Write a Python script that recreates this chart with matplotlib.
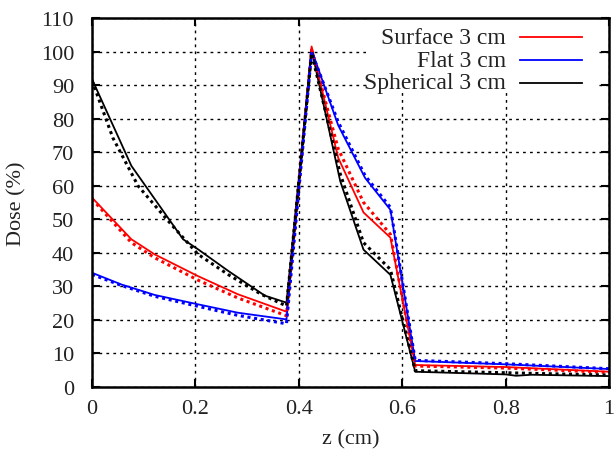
import matplotlib
matplotlib.use("Agg")
import matplotlib.pyplot as plt
from matplotlib.lines import Line2D
from matplotlib.patches import Rectangle

plt.rcParams['font.family'] = ['Liberation Serif', 'DejaVu Serif']

# Surface 3 cm (red)
surf_x = [0, 0.076, 0.121, 0.205, 0.282, 0.376, 0.4246, 0.476, 0.525, 0.577, 0.625, 0.8, 1.0]
surf_y = [56.4, 44, 39.5, 33, 27.6, 22.4, 101.5, 68.3, 52, 44.5, 6.5, 5.9, 4.5]
surf_dot_y = [56, 43, 38.5, 31.8, 26.5, 21.2, 100.5, 71, 55, 45.5, 6.2, 5.6, 4.3]

# Flat 3 cm (blue)
flat_x = [0, 0.057, 0.121, 0.205, 0.282, 0.376, 0.4246, 0.476, 0.528, 0.577, 0.625, 0.8, 1.0]
flat_y = [34, 30.5, 27.4, 24.6, 22.1, 20.1, 100.5, 78, 62.3, 52.8, 7.7, 6.7, 5.3]
flat_dot_y = [33.5, 30.2, 27, 24, 21.3, 18.8, 99.8, 79, 63, 53.5, 7.9, 6.9, 5.4]

# Spherical 3 cm (black)
sph_x = [0, 0.076, 0.176, 0.205, 0.263, 0.334, 0.376, 0.4246, 0.48, 0.525, 0.577, 0.625, 0.8, 0.82, 0.85, 1.0]
sph_y = [91.7, 65.9, 44, 41, 34.6, 27.2, 25.1, 100.5, 61.3, 40.9, 33.4, 4.5, 3.7, 3.3, 3.6, 3.2]
sph_dot_x = [0, 0.04, 0.089, 0.147, 0.205, 0.263, 0.327, 0.376, 0.4246, 0.48, 0.525, 0.577, 0.625, 1.0]
sph_dot_y = [91.3, 74.3, 59.9, 49.5, 39.5, 33.5, 27.6, 24.1, 99.5, 63.5, 43, 35, 4.8, 3.5]

labels = ['Surface 3 cm', 'Flat 3 cm', 'Spherical 3 cm']
colors = ['#ff0000', '#0000ff', 'black']

fig = plt.figure(figsize=(6.14, 4.52), dpi=100)
ax = fig.add_axes([0.150, 0.142, 0.842, 0.816])

ax.plot(surf_x, surf_y, color=colors[0], lw=1.3)
ax.plot(flat_x, flat_y, color=colors[1], lw=1.3)
ax.plot(sph_x, sph_y, color=colors[2], lw=1.3)

dot = dict(lw=2.2, linestyle=(0, (1, 1.2)))
ax.plot(surf_x, surf_dot_y, color=colors[0], **dot)
ax.plot(flat_x, flat_dot_y, color=colors[1], **dot)
ax.plot(sph_dot_x, sph_dot_y, color=colors[2], **dot)

ax.set_xlim(0, 1)
ax.set_ylim(0, 110)
ax.set_xticks([0, 0.2, 0.4, 0.6, 0.8, 1])
ax.set_xticklabels(['0', '0.2', '0.4', '0.6', '0.8', '1'])
ax.set_yticks(range(0, 111, 10))
ax.grid(True, color='black', linestyle=(0, (2, 3)), lw=1.0)
ax.tick_params(direction='in', top=True, right=True, length=6, width=1.5,
               labelsize=16, labelcolor='#222222')
ax.tick_params(axis='y', pad=13)
ax.tick_params(axis='x', pad=9)
for s in ax.spines.values():
    s.set_linewidth(1.8)
    s.set_zorder(5)

ax.set_xlabel('z (cm)', fontsize=16, labelpad=8, color='#222222')
ax.set_ylabel('Dose (%)', fontsize=16, labelpad=10, color='#222222')

# gnuplot-style key: white box, right-aligned text, sample line on the right
ax.add_patch(Rectangle((0.53, 0.805), 0.447, 0.195, transform=ax.transAxes,
                       facecolor='white', edgecolor='none', zorder=3))
key_y = [0.948, 0.886, 0.825]
for lab, col, ky in zip(labels, colors, key_y):
    ax.text(0.801, ky, lab, transform=ax.transAxes, ha='right', va='center',
            fontsize=17, color='#222222', zorder=4)
    ax.add_line(Line2D([0.828, 0.948], [ky, ky], transform=ax.transAxes,
                       color=col, lw=1.3, zorder=4))

fig.savefig('out.png', dpi=100)
